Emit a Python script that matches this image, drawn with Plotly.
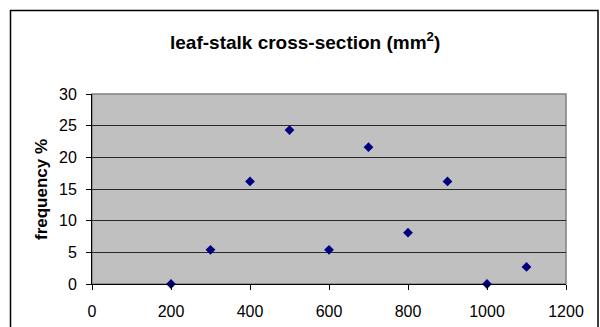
import plotly.graph_objects as go

area_mm2 = [200, 300, 400, 500, 600, 700, 800, 900, 1000, 1100]
frequency_pct = [0, 5.4, 16.2, 24.3, 5.4, 21.6, 8.1, 16.2, 0, 2.7]
x_ticks = [0, 200, 400, 600, 800, 1000, 1200]
y_ticks = [0, 5, 10, 15, 20, 25, 30]
title_text = "leaf-stalk cross-section (mm<sup>2</sup>)"
y_title = "frequency %"

W, H = 600, 327
L, R, T, B = 92, 34, 94, 43
pw, ph = W - L - R, H - T - B

def px_x(x):
    return (x - L) / pw

def px_y(y):
    return (H - B - y) / ph

fig = go.Figure()
fig.add_trace(go.Scatter(
    x=area_mm2, y=frequency_pct, mode="markers",
    marker=dict(symbol="diamond", size=7.5, color="#000080",
                line=dict(width=0)),
    cliponaxis=False, showlegend=False,
))

font = "Liberation Sans, Arial, sans-serif"
fig.update_layout(
    width=W, height=H,
    margin=dict(l=L, r=R, t=T, b=B, pad=0, autoexpand=False),
    paper_bgcolor="white", plot_bgcolor="#C0C0C0",
    font=dict(family=font, size=16, color="black"),
    xaxis=dict(range=[0, 1200], tickvals=x_ticks, showgrid=False, zeroline=False,
               showline=True, linecolor="black", linewidth=1,
               ticks="outside", ticklen=5, tickcolor="black", tickwidth=1,
               ticklabelstandoff=8, automargin=False,
               tickfont=dict(size=16), fixedrange=True),
    yaxis=dict(range=[0, 30], tickvals=y_ticks, showgrid=True, gridcolor="#2a2a2a",
               gridwidth=1, zeroline=False,
               showline=True, linecolor="black", linewidth=1,
               ticks="outside", ticklen=5, tickcolor="black", tickwidth=1,
               ticklabelstandoff=6, automargin=False,
               tickfont=dict(size=16), fixedrange=True),
    shapes=[
        dict(type="rect", xref="paper", yref="paper", x0=0, x1=1, y0=0, y1=1,
             line=dict(color="#808080", width=1.5), layer="below"),
        dict(type="rect", xref="paper", yref="paper",
             x0=px_x(10.5), x1=px_x(598), y0=px_y(10.5), y1=px_y(340),
             line=dict(color="black", width=1.5)),
    ],
    annotations=[
        dict(text="<b>" + title_text + "</b>", xref="paper", yref="paper",
             x=px_x(305), y=px_y(41), xanchor="center", yanchor="middle",
             showarrow=False, font=dict(size=19, family=font)),
        dict(text="<b>" + y_title + "</b>", xref="paper", yref="paper",
             x=px_x(41), y=px_y(190), xanchor="center", yanchor="middle",
             textangle=-90, showarrow=False, font=dict(size=17, family=font)),
    ],
)

fig.write_html("out.html")
